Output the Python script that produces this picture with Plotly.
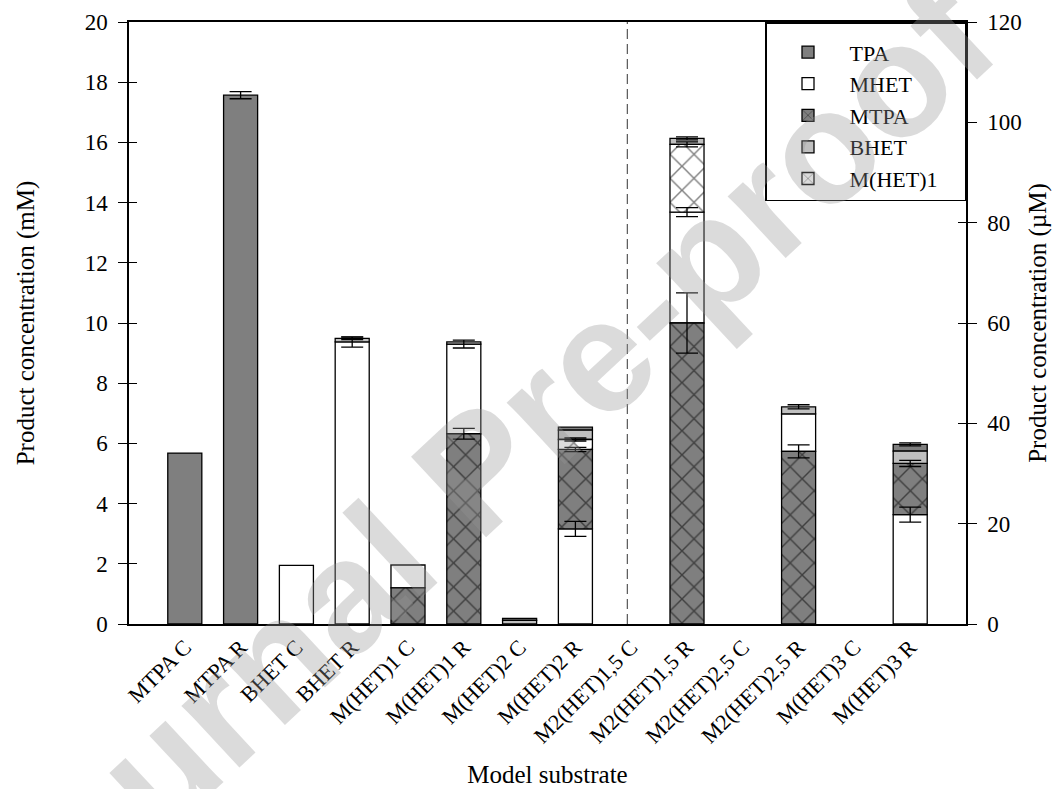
import plotly.graph_objects as go

# ---------------- data ----------------
categories = ["MTPA C", "MTPA R", "BHET C", "BHET R", "M(HET)1 C", "M(HET)1 R",
              "M(HET)2 C", "M(HET)2 R", "M2(HET)1,5 C", "M2(HET)1,5 R",
              "M2(HET)2,5 C", "M2(HET)2,5 R", "M(HET)3 C", "M(HET)3 R"]
series_names = ["TPA", "MHET", "MTPA", "BHET", "M(HET)1"]

# left group: first 8 substrates, values in mM (left axis)
tpa_mM = [5.68, 17.57, 0, 0, 0, 0, 0.07, 0.10]
mhet_mM = [0, 0, 1.95, 9.37, 0.76, 2.98, 0, 3.16]
mtpa_mM = [0, 0, 0, 0, 1.20, 6.32, 0, 2.64]
bhet_mM = [0, 0, 0, 0.12, 0, 0.07, 0.12, 0.31]
mhet1_mM = [0, 0, 0, 0, 0, 0, 0, 0.33]

tpa_mM_err = [None, 0.12, None, None, None, None, None, None]
mhet_mM_err = [None, None, None, 0.17, None, 0.13, None, 0.25]
mtpa_mM_err = [None, None, None, None, None, 0.18, None, 0.07]
bhet_mM_err = [None, None, None, 0.04, None, None, None, None]
mhet1_mM_err = [None, None, None, None, None, None, None, 0.05]

# right group: last 6 substrates, values in uM (right axis)
tpa_uM = [0, 0, 0, 0, 0, 1.35]
mhet_uM = [0, 22.1, 0, 7.5, 0, 21.8]
mtpa_uM = [0, 60.0, 0, 34.4, 0, 10.2]
bhet_uM = [0, 1.2, 0, 1.4, 0, 2.45]
mhet1_uM = [0, 13.5, 0, 0, 0, 0]

tpa_uM_err = [None, None, None, None, None, 0.3]
mhet_uM_err = [None, 0.9, None, None, None, 1.5]
mtpa_uM_err = [None, 6.0, None, 1.3, None, 0.6]
bhet_uM_err = [None, 0.3, None, 0.4, None, None]
mhet1_uM_err = [None, 0.5, None, None, None, None]

# stacking order (bottom -> top) of the products in each bar
ORDER_A = ["MTPA", "MHET", "M(HET)1", "BHET", "TPA"]
ORDER_B = ["MHET", "MTPA", "M(HET)1", "BHET", "TPA"]
stack_mM = [ORDER_A, ORDER_A, ORDER_A, ORDER_A, ORDER_A, ORDER_A, ORDER_A, ORDER_B]
stack_uM = [ORDER_A, ORDER_A, ORDER_A, ORDER_A, ORDER_A, ORDER_B]

SEPARATOR_X = 7.93  # dashed line between the mM and uM groups

# ---------------- styles ----------------
FONT = "Liberation Serif"
LEGEND_PAD = "\u00a0" * 4  # widens the legend box
styles = {
    "TPA": dict(color="#7f7f7f", pattern=None),
    "MHET": dict(color="white", pattern=None),
    "MTPA": dict(color="#7f7f7f", pattern="x"),
    "BHET": dict(color="#c0c0c0", pattern=None),
    "M(HET)1": dict(color="white", pattern="x"),
}

groups = [
    dict(x=list(range(0, 8)), axis="y", orders=stack_mM, showlegend=True,
         vals={"TPA": tpa_mM, "MHET": mhet_mM, "MTPA": mtpa_mM, "BHET": bhet_mM, "M(HET)1": mhet1_mM},
         errs={"TPA": tpa_mM_err, "MHET": mhet_mM_err, "MTPA": mtpa_mM_err,
               "BHET": bhet_mM_err, "M(HET)1": mhet1_mM_err}),
    dict(x=list(range(8, 14)), axis="y2", orders=stack_uM, showlegend=False,
         vals={"TPA": tpa_uM, "MHET": mhet_uM, "MTPA": mtpa_uM, "BHET": bhet_uM, "M(HET)1": mhet1_uM},
         errs={"TPA": tpa_uM_err, "MHET": mhet_uM_err, "MTPA": mtpa_uM_err,
               "BHET": bhet_uM_err, "M(HET)1": mhet1_uM_err}),
]

fig = go.Figure()

for g in groups:
    n = len(g["x"])
    bases = {s: [0.0] * n for s in series_names}
    for i in range(n):
        cum = 0.0
        for s in g["orders"][i]:
            bases[s][i] = cum
            cum += g["vals"][s][i]
    for s in series_names:
        st = styles[s]
        marker = dict(color=st["color"], line=dict(color="black", width=1.3))
        if st["pattern"]:
            marker["pattern"] = dict(shape=st["pattern"], fgcolor="black", bgcolor=st["color"],
                                     size=17, solidity=0.16, fillmode="overlay")
        fig.add_trace(go.Bar(
            x=g["x"], y=[v if v else None for v in g["vals"][s]], base=bases[s],
            yaxis=g["axis"], width=0.61, marker=marker, name=s + LEGEND_PAD,
            legendgroup=s, showlegend=g["showlegend"]))
    # error bars at the top of each segment
    ex, ey, ee = [], [], []
    for s in series_names:
        for i in range(n):
            e = g["errs"][s][i]
            if e is not None:
                ex.append(g["x"][i])
                ey.append(bases[s][i] + g["vals"][s][i])
                ee.append(e)
    fig.add_trace(go.Scatter(
        x=ex, y=ey, yaxis=g["axis"], mode="markers",
        marker=dict(size=1, color="rgba(0,0,0,0)"),
        error_y=dict(type="data", array=ee, color="black", thickness=1.3, width=11),
        showlegend=False, hoverinfo="skip"))

# empty traces to carry the inner tick marks
fig.add_trace(go.Scatter(x=[], y=[], yaxis="y3", showlegend=False))
fig.add_trace(go.Scatter(x=[], y=[], yaxis="y4", showlegend=False))

fig.add_shape(type="line", xref="x", yref="paper", x0=SEPARATOR_X, x1=SEPARATOR_X, y0=0, y1=1,
              line=dict(color="#333333", width=1, dash="10px,5px"))

fig.add_annotation(text="<b>Journal Pre-proof</b>", xref="paper", yref="paper", x=0.415, y=0.255,
                   xanchor="center", yanchor="middle",
                   showarrow=False, textangle=-43,
                   font=dict(family="Liberation Sans", size=160, color="rgba(150,150,150,0.34)"))

axis_common = dict(showgrid=False, zeroline=False, linecolor="black", linewidth=1.5,
                   tickcolor="black", tickwidth=1.3, automargin=False)

fig.update_layout(
    width=1056, height=789,
    margin=dict(l=129, r=90, t=22, b=165),
    paper_bgcolor="white", plot_bgcolor="white",
    barmode="overlay",
    font=dict(family=FONT, color="black"),
    xaxis=dict(range=[-1, 14], tickvals=list(range(len(categories))), ticktext=categories,
               tickangle=-45, ticks="", showline=True, mirror=True,
               tickfont=dict(size=22, family=FONT),
               title=dict(text="Model substrate", font=dict(size=25, family=FONT), standoff=18),
               **axis_common),
    yaxis=dict(range=[0, 20], tick0=0, dtick=2, ticks="outside", ticklen=9, showline=True,
               tickfont=dict(size=23, family=FONT), ticklabelstandoff=6,
               title=dict(text="Product concentration (mM)", font=dict(size=25, family=FONT), standoff=43),
               **axis_common),
    yaxis2=dict(range=[0, 120], tick0=0, dtick=20, overlaying="y", side="right", ticks="outside",
                ticklen=9, showline=True, tickfont=dict(size=23, family=FONT), ticklabelstandoff=6,
                title=dict(text="Product concentration (µM)", font=dict(size=25, family=FONT), standoff=8),
                **axis_common),
    yaxis3=dict(range=[0, 20], tick0=0, dtick=2, overlaying="y", side="left", ticks="inside",
                ticklen=8, showticklabels=False, showline=False, **axis_common),
    yaxis4=dict(range=[0, 120], tick0=0, dtick=20, overlaying="y", side="right", ticks="inside",
                ticklen=8, showticklabels=False, showline=False, **axis_common),
    legend=dict(x=1, y=1, xanchor="right", yanchor="top", bordercolor="black", borderwidth=1.5,
                bgcolor="white", font=dict(size=22, family=FONT), tracegroupgap=1,
                title=dict(text=" ", font=dict(size=6)),
                itemwidth=73, traceorder="normal"),
    showlegend=True,
)

fig.write_html("out.html")
